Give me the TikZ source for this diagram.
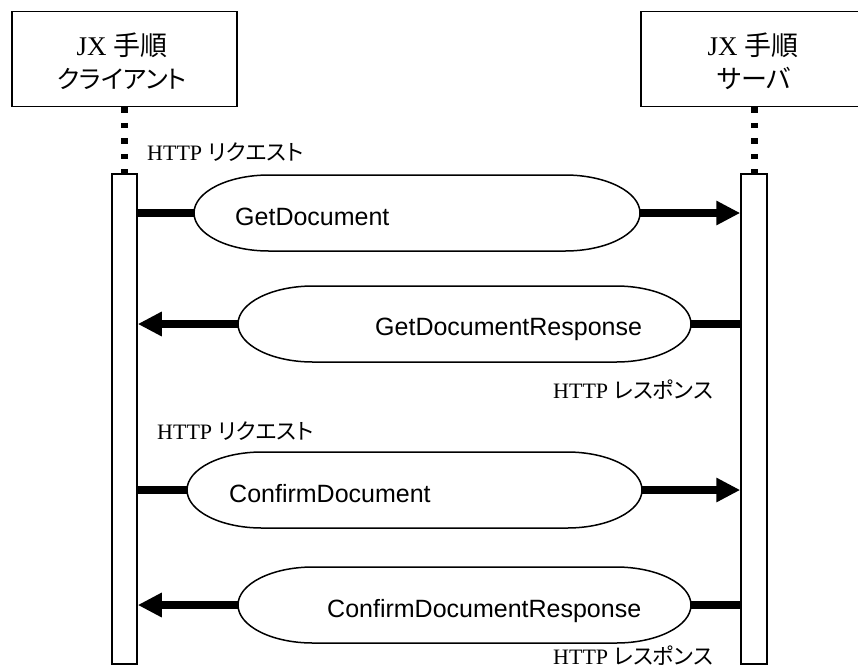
\documentclass[tikz,border=0pt]{standalone}
\usepackage{fontspec}
\setmainfont{Liberation Serif}
\newfontfamily\cjk{Noto Sans CJK JP}[RawFeature=+palt]
\newfontfamily\gsans{Liberation Sans}
\usetikzlibrary{arrows.meta}
\begin{document}
\begin{tikzpicture}[x=1pt,y=-1pt,
  box/.style={draw,line width=1.5pt,minimum width=225pt,minimum height=95pt,inner sep=0pt},
  boxtxt/.style={anchor=base,inner sep=0pt,font=\fontsize{25}{30}\selectfont},
  lifebar/.style={draw,line width=1.5pt,fill=white,minimum width=25pt,minimum height=490pt,inner sep=0pt},
  dotline/.style={line width=7pt,dash pattern=on 5.5pt off 10pt},
  stad/.style={draw,line width=1.5pt},
  msg/.style={line width=8pt},
  tip/.style={-{Triangle[length=24pt,width=23pt]}},
  lbl/.style={font=\gsans\fontsize{25}{30}\selectfont,anchor=base west,inner sep=0pt},
  http/.style={font=\fontsize{22}{26}\selectfont,anchor=base west,inner sep=0pt}
]
\clip (0,0) rectangle (858,665);
\fill[white] (0,0) rectangle (858,665);
% participant boxes
\node[box] (Lbox) at (124.5,59) {};
\node[box,minimum width=224pt] (Rbox) at (753,59) {};
\node[boxtxt,font=\fontsize{27}{30}\selectfont] (Lt1) at (122,55) {JX {\cjk 手順}};
\node[boxtxt] (Lt2) at (122,88) {\cjk クライアント};
\node[boxtxt,font=\fontsize{27}{30}\selectfont] (Rt1) at (753,55) {JX {\cjk 手順}};
\node[boxtxt,font=\fontsize{26}{30}\selectfont] (Rt2) at (754,88) {\cjk サーバ};
% lifelines
\coordinate (Ltop) at (124.5,173);
\coordinate (Rtop) at (754,173);
\draw[dotline] (Lbox.south) -- (Ltop);
\draw[dotline] (Rtop |- Rbox.south) -- (Rtop);
\node[lifebar,anchor=north] (Lbar) at (Ltop) {};
\node[lifebar,anchor=north,minimum width=26pt] (Rbar) at (Rtop) {};
% message 1
\draw[stad] (269,175) -- (565,175) arc[start angle=90,end angle=-90,x radius=75pt,y radius=38pt] -- (269,251) arc[start angle=270,end angle=90,x radius=75pt,y radius=38pt] -- cycle;
\coordinate (m1l) at (194,213);
\coordinate (m1r) at (640,213);
\node[lbl] (t1) at (235,225) {GetDocument};
\draw[msg] (Lbar.east |- m1l) -- (m1l);
\draw[msg,tip] (m1r) -- (Rbar.west |- m1r);
\node[http] (h1) at (147,160) {HTTP {\cjk リクエスト}};
% message 2
\draw[stad] (313,286) -- (616,286) arc[start angle=90,end angle=-90,x radius=75pt,y radius=38pt] -- (313,362) arc[start angle=270,end angle=90,x radius=75pt,y radius=38pt] -- cycle;
\coordinate (m2l) at (238,324);
\coordinate (m2r) at (691,324);
\node[lbl] (t2) at (375,335) {GetDocumentResponse};
\draw[msg] (Rbar.west |- m2r) -- (m2r);
\draw[msg,tip] (m2l) -- (Lbar.east |- m2l);
\node[http] (h2) at (553,398) {HTTP {\cjk レスポンス}};
% message 3
\node[http] (h3) at (157,439) {HTTP {\cjk リクエスト}};
\draw[stad] (262,452) -- (567,452) arc[start angle=90,end angle=-90,x radius=75pt,y radius=38pt] -- (262,528) arc[start angle=270,end angle=90,x radius=75pt,y radius=38pt] -- cycle;
\coordinate (m3l) at (187,490);
\coordinate (m3r) at (642,490);
\node[lbl] (t3) at (229,502) {ConfirmDocument};
\draw[msg] (Lbar.east |- m3l) -- (m3l);
\draw[msg,tip] (m3r) -- (Rbar.west |- m3r);
% message 4
\draw[stad] (313,567) -- (616,567) arc[start angle=90,end angle=-90,x radius=75pt,y radius=38pt] -- (313,643) arc[start angle=270,end angle=90,x radius=75pt,y radius=38pt] -- cycle;
\coordinate (m4l) at (238,605);
\coordinate (m4r) at (691,605);
\node[lbl] (t4) at (327,617) {ConfirmDocumentResponse};
\draw[msg] (Rbar.west |- m4r) -- (m4r);
\draw[msg,tip] (m4l) -- (Lbar.east |- m4l);
\node[http] (h4) at (553,664) {HTTP {\cjk レスポンス}};
\end{tikzpicture}
\end{document}
